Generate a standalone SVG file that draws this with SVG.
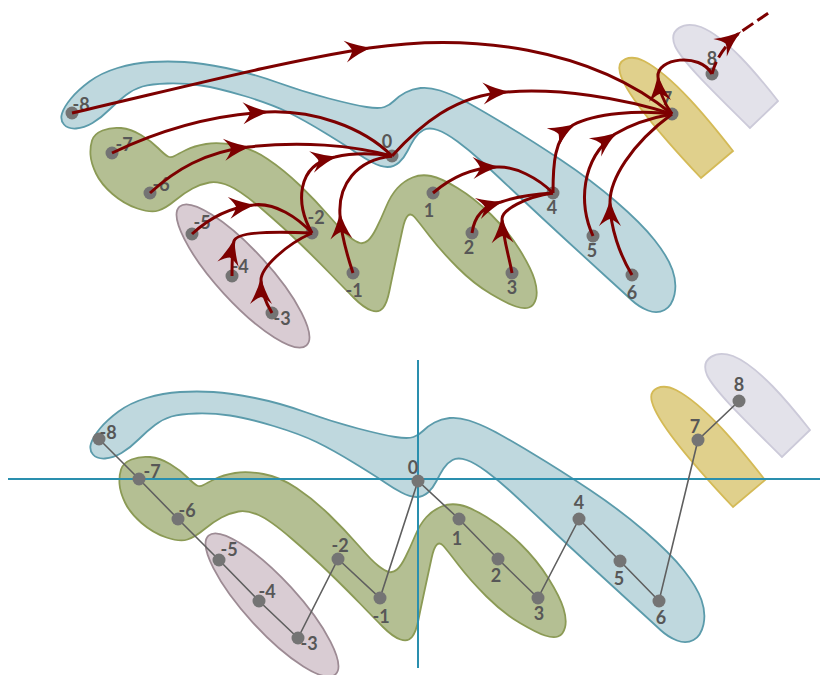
<svg xmlns="http://www.w3.org/2000/svg" xmlns:xlink="http://www.w3.org/1999/xlink" width="820" height="675" viewBox="0 0 820 675">
<style>
.blue{fill:#bfd8de;stroke:#5b9bab;stroke-width:1.8}
.green{fill:#b4bf93;stroke:#8b9a55;stroke-width:1.8}
.pink{fill:#d9ccd3;stroke:#9d8b94;stroke-width:1.8}
.yellow{fill:#e0d08c;stroke:#d4ba56;stroke-width:1.8}
.lav{fill:#e3e2ea;stroke:#cccad9;stroke-width:1.8}
.arr{fill:none;stroke:#7d0000;stroke-width:3;marker-mid:url(#ah)}
.dash{stroke-dasharray:13 5}
.node{fill:#747474}
.lbl{font-family:Lato,"Liberation Sans",sans-serif;font-size:18px;font-weight:bold;fill:#575757;text-anchor:middle}
.axis{stroke:#2a8fae;stroke-width:2}
.edge{fill:none;stroke:#5f5f5f;stroke-width:1.6}
</style>
<defs>
<marker id="ah" markerUnits="userSpaceOnUse" viewBox="-28 -13 32 26" refX="0" refY="0" markerWidth="32" markerHeight="26" orient="auto" overflow="visible">
<path d="M3,0 Q-10,-3 -24,-11 Q-18,-4 -17,0 Q-18,4 -24,11 Q-10,3 3,0 Z" fill="#7d0000"/>
</marker>
<path id="sBlue" class="blue" d="M91,443.5 Q93,437 100,428.5 Q107,420 118.5,411.5 Q130,403 146.5,398 Q163,393 180,392 Q197,391 213.5,392 Q230,393 255,398 Q280,403 306.5,412.5 Q333,422 358,428.5 Q383,435 395.5,437 Q408,439 413.5,437 Q419,435 423.5,430.5 Q428,426 434.5,422.5 Q441,419 449.5,418 Q458,417 469,420.5 Q480,424 492.5,430.5 Q505,437 532.5,453.5 Q560,470 590,490 Q620,510 645,531.5 Q670,553 683.5,570 Q697,587 701.5,600 Q706,613 703.5,624.5 Q701,636 693.5,640 Q686,644 677,640.5 Q668,637 660.5,630 Q653,623 636.5,608 Q620,593 595,570 Q570,547 545,523.5 Q520,500 509,490 Q498,480 486.5,471.5 Q475,463 466.5,460 Q458,457 452.5,460 Q447,463 443.5,468.5 Q440,474 436.5,481 Q433,488 428,492.5 Q423,497 416.5,497 Q410,497 401.5,492.5 Q393,488 385,482.5 Q377,477 355,463.5 Q333,450 316.5,442 Q300,434 273.5,426 Q247,418 230,415.5 Q213,413 196.5,413.5 Q180,414 171.5,416.5 Q163,419 155,425 Q147,431 138.5,439.5 Q130,448 121.5,453 Q113,458 105,458.5 Q97,459 93,454.5 Q89,450 91,443.5 Z"/>
<path id="sGreen" class="green" d="M121,469.5 Q123,463 131.5,459.5 Q140,456 150,457 Q160,458 170,464 Q180,470 187,477 Q194,484 197,485.5 Q200,487 203.5,485 Q207,483 215,479 Q223,475 235,473 Q247,471 263.5,474 Q280,477 296.5,488 Q313,499 329,514.5 Q345,530 358.5,545.5 Q372,561 378.5,566 Q385,571 389,572 Q393,573 397,569.5 Q401,566 405.5,557 Q410,548 415,536 Q420,524 426.5,517 Q433,510 441.5,506.5 Q450,503 460,505 Q470,507 486.5,517 Q503,527 520,543.5 Q537,560 548.5,578.5 Q560,597 563.5,608.5 Q567,620 565,627.5 Q563,635 558,636.5 Q553,638 545,635.5 Q537,633 520,623 Q503,613 486.5,596.5 Q470,580 458.5,565 Q447,550 443.5,546 Q440,542 437,544.5 Q434,547 431.5,558.5 Q429,570 425,588.5 Q421,607 418.5,619.5 Q416,632 412,637 Q408,642 400.5,639.5 Q393,637 383,627 Q373,617 360,603.5 Q347,590 330,573.5 Q313,557 291.5,538.5 Q270,520 258.5,515 Q247,510 238.5,511.5 Q230,513 221.5,517.5 Q213,522 204,529.5 Q195,537 187.5,539.5 Q180,542 166.5,537.5 Q153,533 141.5,523 Q130,513 125,502.5 Q120,492 119.5,484 Q119,476 121,469.5 Z"/>
<ellipse id="sPink" class="pink" cx="0" cy="0" rx="94" ry="26"/>
<path id="sYellow" class="yellow" d="M765,480 L733,507 C700,472 658,425 652,402 C648,388 662,383 676,390 C705,405 740,448 765,480 Z"/>
<path id="sLav" class="lav" d="M810,430 L782,457 C750,425 715,392 707,375 C700,358 716,350 733,356 C758,366 788,402 810,430 Z"/>
</defs>

<g id="top-blobs">
<use xlink:href="#sBlue" href="#sBlue" transform="translate(-29,-330)"/>
<use xlink:href="#sGreen" href="#sGreen" transform="translate(-29,-329)"/>
<use xlink:href="#sPink" href="#sPink" transform="translate(243,276) rotate(47.5)"/>
<use xlink:href="#sYellow" href="#sYellow" transform="translate(-32,-329)"/>
<use xlink:href="#sLav" href="#sLav" transform="translate(-32,-329)"/>
</g>

<g id="top-nodes">
<circle class="node" cx="72" cy="113" r="6.5"/>
<circle class="node" cx="112" cy="153" r="6.5"/>
<circle class="node" cx="150" cy="193" r="6.5"/>
<circle class="node" cx="192" cy="234" r="6.5"/>
<circle class="node" cx="232" cy="276" r="6.5"/>
<circle class="node" cx="272" cy="313" r="6.5"/>
<circle class="node" cx="312" cy="233" r="6.5"/>
<circle class="node" cx="353" cy="273" r="6.5"/>
<circle class="node" cx="392" cy="156" r="6.5"/>
<circle class="node" cx="433" cy="193" r="6.5"/>
<circle class="node" cx="472" cy="233" r="6.5"/>
<circle class="node" cx="512" cy="273" r="6.5"/>
<circle class="node" cx="553" cy="193" r="6.5"/>
<circle class="node" cx="593" cy="236" r="6.5"/>
<circle class="node" cx="632" cy="275" r="6.5"/>
<circle class="node" cx="672" cy="114" r="6.5"/>
<circle class="node" cx="712" cy="74" r="6.5"/>
</g>
<g id="top-labels">
<text class="lbl" x="81" y="110.5">-8</text>
<text class="lbl" x="124" y="150.5">-7</text>
<text class="lbl" x="161" y="190.5">-6</text>
<text class="lbl" x="202" y="228.5">-5</text>
<text class="lbl" x="240" y="272.5">-4</text>
<text class="lbl" x="282" y="324.5">-3</text>
<text class="lbl" x="316" y="223.5">-2</text>
<text class="lbl" x="354" y="296.5">-1</text>
<text class="lbl" x="387" y="147.5">0</text>
<text class="lbl" x="429" y="216.5">1</text>
<text class="lbl" x="469" y="253.5">2</text>
<text class="lbl" x="512" y="293.5">3</text>
<text class="lbl" x="552" y="213.5">4</text>
<text class="lbl" x="592" y="256.5">5</text>
<text class="lbl" x="632" y="298.5">6</text>
<text class="lbl" x="667" y="104.5">7</text>
<text class="lbl" x="712" y="64.5">8</text>
</g>

<g id="connectors">
<path class="arr" d="M72,113 C180,88 280,62 369,48 C470,33 590,47 672,114"/>
<path class="arr" d="M112,153 C160,130 210,115 267,112 C312,110 362,126 392,156"/>
<path class="arr" d="M150,193 C175,170 205,152 248,147 C300,141 352,145 392,156"/>
<path class="arr" d="M312,233 C296,205 295,165 335,157 C352,153 372,153 392,156"/>
<path class="arr" d="M353,273 C347,255 341,235 340,215 C338,185 356,160 392,156"/>
<path class="arr" d="M192,234 C205,222 225,208 253,205 C275,202 298,218 312,233"/>
<path class="arr" d="M232,276 C232,262 232,252 234,241 C237,232 270,231 312,233"/>
<path class="arr" d="M272,313 C266,303 261,293 261,280 C261,268 285,245 312,233"/>
<path class="arr" d="M392,156 C420,125 455,95 507,92 C560,88 622,98 672,114"/>
<path class="arr" d="M433,193 C448,180 468,168 497,167 C515,166 538,178 553,193"/>
<path class="arr" d="M472,233 C474,218 482,206 501,202 C515,197 535,194 553,193"/>
<path class="arr" d="M512,273 C509,256 503,238 502,219 C502,210 525,197 553,193"/>
<path class="arr" d="M553,193 C553,165 554,138 573,125 C595,113 640,110 672,114"/>
<path class="arr" d="M593,236 C579,205 580,160 615,134 C630,125 650,118 672,114"/>
<path class="arr" d="M632,275 C620,255 610,228 610,202 C610,180 630,145 672,114"/>
<path class="arr" d="M672,114 C664,103 659,92 658,77 C656,58 700,52 712,74"/>
<path class="arr dash" d="M712,74 C715,62 722,48 739,33 L770,12"/>
</g>

<g id="bottom-blobs">
<use xlink:href="#sBlue" href="#sBlue"/>
<use xlink:href="#sGreen" href="#sGreen"/>
<use xlink:href="#sPink" href="#sPink" transform="translate(272,605) rotate(47.5)"/>
<use xlink:href="#sYellow" href="#sYellow"/>
<use xlink:href="#sLav" href="#sLav"/>
</g>

<g id="axes">
<line class="axis" x1="8" y1="479" x2="820" y2="479"/>
<line class="axis" x1="418" y1="360" x2="418" y2="668"/>
</g>

<g id="bottom-edges">
<polyline class="edge" points="99,439 139,479 178,519 219,560 259,601 298,638 338,559 380,598 418,481 459,519 498,559 538,598 579,519 620,561 659,601 698,440 739,401"/>
</g>

<g id="bottom-nodes">
<circle class="node" cx="99" cy="439" r="6.5"/>
<circle class="node" cx="139" cy="479" r="6.5"/>
<circle class="node" cx="178" cy="519" r="6.5"/>
<circle class="node" cx="219" cy="560" r="6.5"/>
<circle class="node" cx="259" cy="601" r="6.5"/>
<circle class="node" cx="298" cy="638" r="6.5"/>
<circle class="node" cx="338" cy="559" r="6.5"/>
<circle class="node" cx="380" cy="598" r="6.5"/>
<circle class="node" cx="418" cy="481" r="6.5"/>
<circle class="node" cx="459" cy="519" r="6.5"/>
<circle class="node" cx="498" cy="559" r="6.5"/>
<circle class="node" cx="538" cy="598" r="6.5"/>
<circle class="node" cx="579" cy="519" r="6.5"/>
<circle class="node" cx="620" cy="561" r="6.5"/>
<circle class="node" cx="659" cy="601" r="6.5"/>
<circle class="node" cx="698" cy="440" r="6.5"/>
<circle class="node" cx="739" cy="401" r="6.5"/>
</g>
<g id="bottom-labels">
<text class="lbl" x="108" y="438.5">-8</text>
<text class="lbl" x="152" y="477.5">-7</text>
<text class="lbl" x="187" y="516.5">-6</text>
<text class="lbl" x="229" y="555.5">-5</text>
<text class="lbl" x="267" y="597.5">-4</text>
<text class="lbl" x="309" y="649.5">-3</text>
<text class="lbl" x="340" y="551.5">-2</text>
<text class="lbl" x="381" y="622.5">-1</text>
<text class="lbl" x="413" y="473.5">0</text>
<text class="lbl" x="457" y="544.5">1</text>
<text class="lbl" x="496" y="581.5">2</text>
<text class="lbl" x="539" y="619.5">3</text>
<text class="lbl" x="579" y="508.5">4</text>
<text class="lbl" x="619" y="584.5">5</text>
<text class="lbl" x="661" y="623.5">6</text>
<text class="lbl" x="695" y="432.5">7</text>
<text class="lbl" x="739" y="390.5">8</text>
</g>
</svg>
